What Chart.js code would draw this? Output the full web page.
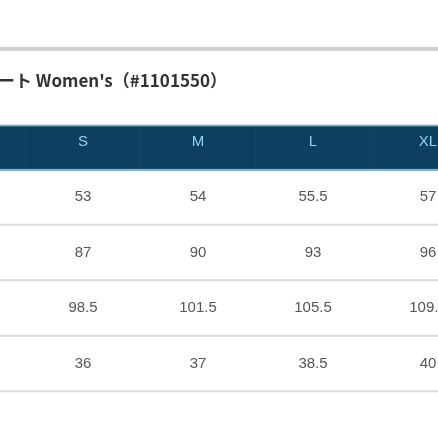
<!DOCTYPE html>
<html>
<head>
<meta charset="utf-8">
<script src="https://cdn.jsdelivr.net/npm/chart.js@4"></script>
<style>
  html, body { margin: 0; padding: 0; background: #fff; }
  #wrap { width: 438px; height: 438px; }
</style>
</head>
<body>
<div id="wrap"><canvas id="sizeChart"></canvas></div>
<script>
const title = "ート Women's（#1101550）";
const sizes = ["S", "M", "L", "XL"];
const row1 = [53, 54, 55.5, 57];
const row2 = [87, 90, 93, 96];
const row3 = [98.5, 101.5, 105.5, 109.5];
const row4 = [36, 37, 38.5, 40];
const rows = [row1, row2, row3, row4];

// one point per cell, x = column index, y = row index (header is row 0)
const points = [];
sizes.forEach((s, i) => points.push({ x: i, y: 0, text: s, head: true }));
rows.forEach((r, ri) => r.forEach((v, i) => points.push({ x: i, y: ri + 1, text: String(v) })));

const tablePlugin = {
  id: "table",
  beforeDatasetsDraw(chart) {
    const { ctx, scales: { x, y }, width } = chart;
    ctx.save();
    // top grey rule
    ctx.fillStyle = "#cfcfcf";
    ctx.fillRect(0, 47, width, 4);
    // title
    ctx.fillStyle = "#333";
    ctx.font = "bold 17px 'Noto Sans CJK JP', 'Liberation Sans', sans-serif";
    ctx.textBaseline = "middle";
    ctx.fillText(title, -2, 81);
    // header band
    const top = y.getPixelForValue(-0.3), bot = y.getPixelForValue(0.52);
    ctx.fillStyle = "#0c3f60";
    ctx.fillRect(0, top, width, bot - top);
    ctx.fillStyle = "#6fb7d8";
    ctx.fillRect(0, top, width, 1.5);
    ctx.fillRect(0, bot - 1.5, width, 1.5);
    ctx.strokeStyle = "#134766";
    ctx.lineWidth = 1;
    for (let i = -0.5; i < sizes.length; i++) {
      const px = Math.round(x.getPixelForValue(i)) + 0.5;
      ctx.beginPath(); ctx.moveTo(px, top + 2); ctx.lineTo(px, bot - 2); ctx.stroke();
    }
    // row separators
    ctx.strokeStyle = "#dadada";
    ctx.lineWidth = 2;
    for (let r = 1.5; r < rows.length + 1.5; r++) {
      const py = y.getPixelForValue(r);
      ctx.beginPath(); ctx.moveTo(0, py); ctx.lineTo(width, py); ctx.stroke();
    }
    ctx.restore();
  },
  afterDatasetsDraw(chart) {
    const { ctx } = chart;
    const meta = chart.getDatasetMeta(0);
    ctx.save();
    ctx.textAlign = "center";
    ctx.textBaseline = "middle";
    meta.data.forEach((pt, i) => {
      const d = points[i];
      ctx.fillStyle = d.head ? "#8fd3f5" : "#555";
      ctx.font = "15px 'Liberation Sans', Arial, sans-serif";
      ctx.fillText(d.text, pt.x, pt.y);
    });
    ctx.restore();
  }
};

new Chart(document.getElementById("sizeChart"), {
  type: "scatter",
  data: { datasets: [{ data: points, pointRadius: 0 }] },
  options: {
    responsive: true,
    maintainAspectRatio: false,
    animation: false,
    layout: { padding: 0 },
    plugins: { legend: { display: false }, tooltip: { enabled: false } },
    scales: {
      x: { type: "linear", display: false, min: -0.7217, max: 3.087 },
      y: { type: "linear", display: false, reverse: true, min: -2.55, max: 5.342 }
    }
  },
  plugins: [tablePlugin]
});
</script>
</body>
</html>
